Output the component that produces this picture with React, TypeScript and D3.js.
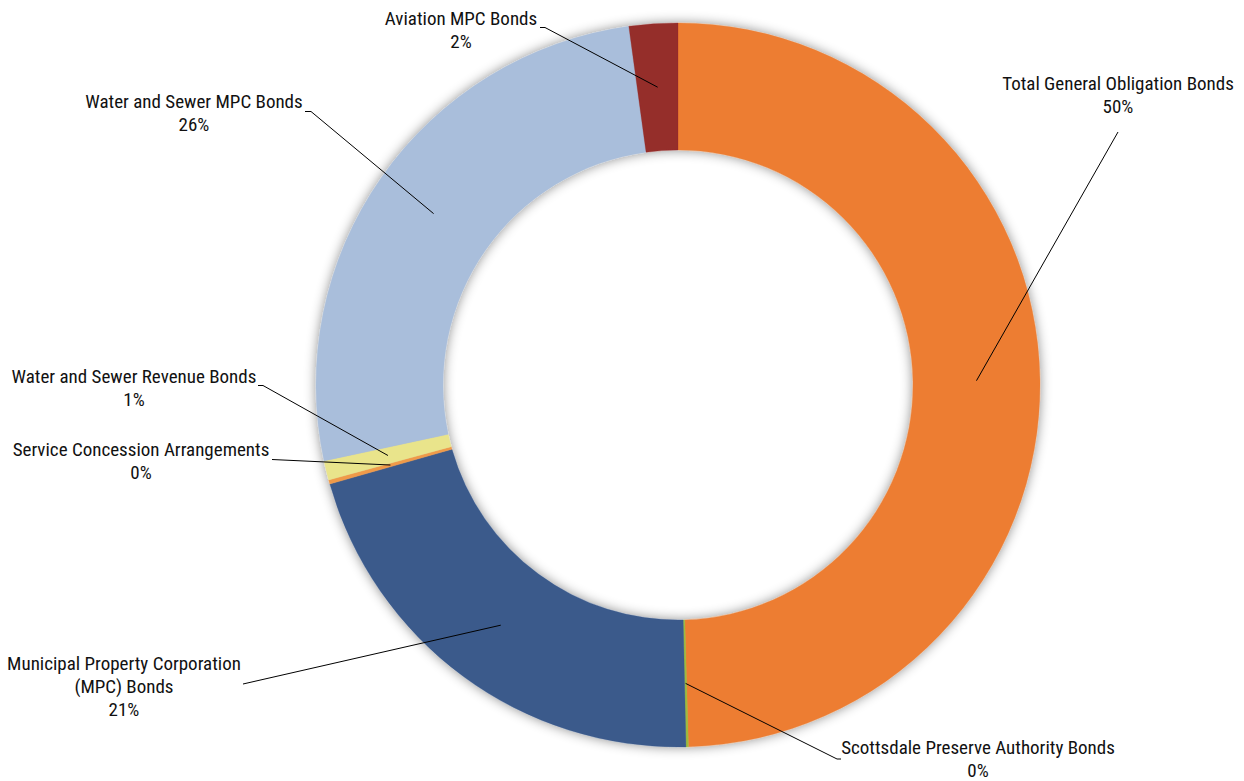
import * as d3 from 'd3';
import React from 'react';

// slice values (share of total debt, %), clockwise from 12 o'clock
const categories = [
  'Total General Obligation Bonds',
  'Scottsdale Preserve Authority Bonds',
  'Municipal Property Corporation (MPC) Bonds',
  'Service Concession Arrangements',
  'Water and Sewer Revenue Bonds',
  'Water and Sewer MPC Bonds',
  'Aviation MPC Bonds',
];
const values = [49.55, 0.11, 20.94, 0.19, 0.86, 26.2, 2.17];
const colors = ['#ED7D31', '#9DBB3D', '#3A5A8B', '#EF9A4A', '#E9E48B', '#A9BEDB', '#952D2A'];

// label text lines (the percentage is appended below)
const labelLines = [
  ['Total General Obligation Bonds'],
  ['Scottsdale Preserve Authority Bonds'],
  ['Municipal Property Corporation', '(MPC) Bonds'],
  ['Service Concession Arrangements'],
  ['Water and Sewer Revenue Bonds'],
  ['Water and Sewer MPC Bonds'],
  ['Aviation MPC Bonds'],
];

// where each label box sits and where its leader line leaves it
const labelLayout = [
  { x: 1118, y: 83, lead: [1118, 132], stub: null },
  { x: 978, y: 747, lead: [841, 759], stub: [837, 759] },
  { x: 124, y: 663, lead: [243, 684], stub: null },
  { x: 141, y: 449, lead: [272, 459.5], stub: null },
  { x: 134, y: 376, lead: [258, 385.5], stub: [263, 385.5] },
  { x: 194, y: 101, lead: [305, 111.5], stub: [311, 111.5] },
  { x: 461, y: 18, lead: [540, 27.5], stub: [545, 27.5] },
];

const width = 1244;
const height = 781;
const cx = 678;
const cy = 385;
const outerR = 362;
const innerR = 235;
const fontSize = 19;
const lineH = 23;

export default function App() {
  const total = d3.sum(values);
  const pie = d3
    .pie<number>()
    .sort(null)
    .value((d) => d)(values);
  const arc = d3.arc<d3.PieArcDatum<number>>().innerRadius(innerR).outerRadius(outerR);
  const fmt = (v: number) => `${Math.round((v / total) * 100)}%`;

  return (
    <div style={{ position: 'fixed', left: 0, top: 0 }}>
      <svg width={width} height={height} style={{ display: 'block', background: '#fff' }}>
        <defs>
          <filter id="glow" x="-20%" y="-20%" width="140%" height="140%">
            <feDropShadow dx="0" dy="0" stdDeviation="6" floodColor="#000" floodOpacity="0.45" />
          </filter>
        </defs>
        <g transform={`translate(${cx},${cy})`}>
          <g filter="url(#glow)">
            {pie.map((p, i) => (
              <path key={i} d={arc(p) || ''} fill={colors[i]} stroke={colors[i]} strokeWidth={0.3} />
            ))}
          </g>
        </g>
        {pie.map((p, i) => {
          const [mx, my] = arc.centroid(p);
          const L = labelLayout[i];
          const pts: number[][] = [L.lead];
          if (L.stub) pts.push(L.stub);
          pts.push([cx + mx, cy + my]);
          return (
            <path
              key={'l' + i}
              d={d3.line()(pts as [number, number][]) || ''}
              fill="none"
              stroke="#000"
              strokeWidth={1}
            />
          );
        })}
        {labelLines.map((lines, i) => {
          const L = labelLayout[i];
          const all = [...lines, fmt(values[i])];
          return (
            <g key={'t' + i} transform={`translate(${L.x},${L.y})`}>
              {all.map((s, j) => (
                <text
                  key={j}
                  x={0}
                  y={j * lineH}
                  dy="0.35em"
                  textAnchor="middle"
                  fontFamily="'Roboto Condensed', Roboto, 'Noto Sans', sans-serif"
                  fontSize={fontSize}
                  fill="#111"
                >
                  {s}
                </text>
              ))}
            </g>
          );
        })}
      </svg>
    </div>
  );
}
